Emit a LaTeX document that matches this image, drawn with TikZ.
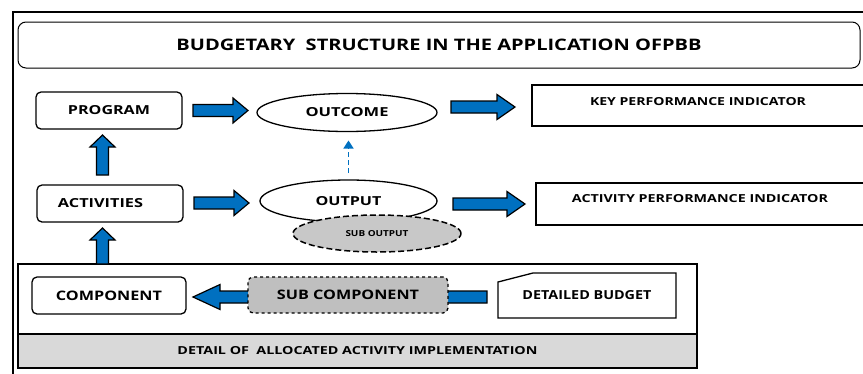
\documentclass[tikz,border=0pt]{standalone}
\usepackage{fontspec}
\usepackage{graphicx}
\setmainfont{Open Sans}
\usetikzlibrary{calc,shapes.geometric,arrows.meta}
\definecolor{ablue}{RGB}{0,112,192}
\definecolor{gsub}{RGB}{191,191,191}
\definecolor{gout}{RGB}{200,200,200}
\definecolor{gband}{RGB}{217,217,217}
\newcommand\mylab[3]{\resizebox{#1pt}{#2pt}{\bfseries #3}}
\tikzset{
  box/.style={draw, line width=1.3pt, rounded corners=5pt, inner sep=0pt, outer sep=0pt, fill=white},
  sqbox/.style={draw, line width=1.3pt, inner sep=0pt, outer sep=0pt},
  ell/.style={draw, ellipse, line width=1.3pt, inner sep=0pt, outer sep=0pt, fill=white},
  lbl/.style={inner sep=0pt, outer sep=0pt},
  barrow/.style={draw=black, line width=1.2pt, fill=ablue, line join=miter,
    to path={let \p1=(\tikztostart), \p2=(\tikztotarget),
      \n1={atan2(\y2-\y1,\x2-\x1)}, \n2={veclen(\x2-\x1,\y2-\y1)}, \n3={\n2-#1} in
      ($(\p1)+({\n1+90}:6)$) -- ($(\p1)+(\n1:\n3)+({\n1+90}:6)$)
      -- ($(\p1)+(\n1:\n3)+({\n1+90}:12.5)$) -- (\p2)
      -- ($(\p1)+(\n1:\n3)+({\n1-90}:12.5)$) -- ($(\p1)+(\n1:\n3)+({\n1-90}:6)$)
      -- ($(\p1)+({\n1-90}:6)$) -- cycle}},
  barrow/.default=15,
  dasharr/.style={draw=ablue, line width=1.6pt, dash pattern=on 5pt off 3pt, -{Triangle[length=8pt,width=10pt]}}
}
\begin{document}
\begin{tikzpicture}[x=1pt,y=1pt]
\useasboundingbox (0,0) rectangle (863,-373);
% outer frame
\draw[line width=2pt] (13,-390) -- (13,-12) -- (880,-12);
% title
\node[box, rounded corners=8pt, line width=1pt, minimum width=842pt, minimum height=46pt] (title) at (439,-45)
  {\mylab{525}{11.5}{BUDGETARY\ \ STRUCTURE IN THE APPLICATION OFPBB}};
% top row
\node[box, minimum width=146pt, minimum height=37pt] (prog) at (109,-110.5) {\mylab{82}{9}{PROGRAM}};
\node[ell, minimum width=180pt, minimum height=38pt] (outc) at (347,-112.5) {\mylab{83}{9}{OUTCOME}};
\node[sqbox, minimum width=338pt, minimum height=41pt] (kpi) at (701,-105.5) {};
\node[lbl] (kpit) at (698,-101.5) {\mylab{216}{8}{KEY PERFORMANCE INDICATOR}};
% middle row
\node[box, minimum width=146pt, minimum height=37pt] (act) at (110,-203.5) {\mylab{85}{9}{ACTIVITIES}\hspace*{19pt}};
\node[ell, minimum width=177pt, minimum height=42pt] (outp) at (348.5,-201) {\mylab{66}{9}{OUTPUT}};
\node[ell, fill=gout, dashed, dash pattern=on 6pt off 3pt, line width=1.5pt, minimum width=168pt, minimum height=37pt] (subo) at (377,-233.5) {\mylab{63}{6}{SUB OUTPUT}};
\node[sqbox, minimum width=334pt, minimum height=42pt] (api) at (703,-204) {};
\node[lbl] (apit) at (700,-198.5) {\mylab{256}{8}{ACTIVITY PERFORMANCE INDICATOR}};
% bottom area
\node[sqbox, minimum width=679pt, minimum height=104pt] (dbox) at (357.5,-316) {};
\node[sqbox, fill=gband, minimum width=679pt, minimum height=34pt] (detail) at (357.5,-351)
  {\mylab{360}{8}{DETAIL OF\ \ ALLOCATED ACTIVITY IMPLEMENTATION}};
\node[box, minimum width=154pt, minimum height=37pt] (comp) at (109,-295.5) {\mylab{106}{9.5}{COMPONENT}};
\node[lbl, minimum width=178pt, minimum height=45pt] (dbud) at (587,-295.5) {\mylab{129}{9}{DETAILED BUDGET}};
\draw[line width=1.3pt, line join=miter] (dbud.south west) -- ($(dbud.north west)+(0,-9)$) -- ($(dbud.north west)+(35,0)$)
  -- (dbud.north east) -- (dbud.south east) -- cycle;
% block arrows
\coordinate (a1s) at ($(prog.east)+(11,0)$);
\coordinate (a1e) at ($(a1s -| outc.west)+(-9,0)$);
\draw[barrow] (a1s) to (a1e);
\coordinate (a2s) at ($(act.east)+(11,0.5)$);
\coordinate (a2e) at ($(a2s -| outp.west)+(-11,0)$);
\draw[barrow] (a2s) to (a2e);
\coordinate (a3s) at ($(outc.east)+(14,5.5)$);
\coordinate (a3e) at ($(a3s -| kpi.west)+(-17,0)$);
\draw[barrow=18] (a3s) to (a3e);
\coordinate (a4s) at ($(outp.east)+(16,-3)$);
\coordinate (a4e) at ($(a4s -| api.west)+(-11,0)$);
\draw[barrow=18] (a4s) to (a4e);
\coordinate (u1s) at ($(act.north)+(-7.5,10)$);
\coordinate (u1e) at ($(u1s |- prog.south)+(0,-6)$);
\draw[barrow=12] (u1s) to (u1e);
\coordinate (u2s) at (u1s |- dbox.north);
\coordinate (u2e) at ($(u1s |- act.south)+(0,-6)$);
\draw[barrow=12] (u2s) to (u2e);
\coordinate (las) at ($(dbud.west)+(-11,-1.5)$);
\coordinate (lae) at ($(las -| comp.east)+(7,0)$);
\draw[barrow=27] (las) to (lae);
\node[box, fill=gsub, dashed, minimum width=200pt, minimum height=36pt] (subc) at (348,-295) {\mylab{142}{9.5}{SUB COMPONENT}};
% dashed arrow
\coordinate (d1) at ($(outp.north)+(0,7)$);
\coordinate (d2) at ($(d1 |- outc.south)+(0,-9)$);
\draw[dasharr] (d1) -- (d2);
\end{tikzpicture}
\end{document}
